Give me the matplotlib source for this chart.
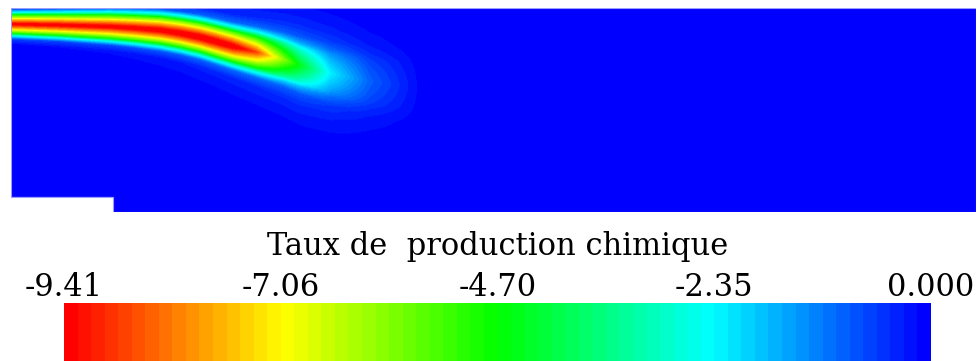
import colorsys
import numpy as np
import matplotlib
matplotlib.use('Agg')
from matplotlib import pyplot as plt
from matplotlib.colors import ListedColormap

# domain (arbitrary length units), step at the lower-left corner
Lx, Ly = 965.0, 204.0
step_x, step_y = 102.0, 15.0

# plume stations: x, centre height, peak, core width,
# faint skirt peak and skirt width
st_x    = [0, 49, 99, 124, 149, 169, 189, 204, 222, 246, 272, 289, 319, 359, 409, 460]
st_y    = [187, 186, 184.5, 183, 181, 178, 174, 170, 165, 159, 152, 146, 138, 130, 124, 120]
st_peak = [-9.41, -9.41, -9.38, -9.35, -9.32, -9.3, -9.25, -9.2, -9.0, -7.8, -5.0, -3.4, -1.4, -0.5, -0.05, 0.0]
st_w    = [10, 11, 12.5, 13.2, 14, 14.5, 15, 15.5, 16, 17, 18, 19, 21, 24, 27, 30]
st_halo = [-0.3, -0.35, -0.4, -0.5, -0.6, -0.7, -0.8, -0.85, -0.9, -1.0, -1.1, -1.1, -0.9, -0.45, -0.05, 0.0]
st_hw   = [22, 24, 27, 28, 30, 31, 33, 34, 36, 38, 40, 42, 44, 46, 48, 50]

# cross-stream shape of the plume (offset / core width -> fraction of peak)
prof_u = [0, 0.2, 0.5, 0.9, 1.15, 1.5, 2.0]
prof_v = [1, 0.9, 0.75, 0.5, 0.25, 0.05, 0]

vmin, vmax = -9.41, 0.0
tick_vals = [-9.41, -7.0575, -4.705, -2.3525, 0.0]
tick_labels = ['-9.41', '-7.06', '-4.70', '-2.35', '0.000']
title = 'Taux de  production chimique'

# 64 band rainbow, red -> blue
n_bands = 64
cols = [colorsys.hsv_to_rgb(2/3 * i / (n_bands - 1), 1, 1) for i in range(n_bands)]
cmap = ListedColormap(cols)
cmap.set_bad('white')

x = np.arange(0, Lx, 1.0) + 0.5
y = np.arange(0, Ly, 1.0) + 0.5
X, Y = np.meshgrid(x, y)
yc = np.interp(x, st_x, st_y)
pk = np.interp(x, st_x, st_peak)
w = np.interp(x, st_x, st_w)
hp = np.interp(x, st_x, st_halo)
hw = np.interp(x, st_x, st_hw)
d = Y - yc[None, :]
core = np.interp(np.abs(d) / w[None, :], prof_u, prof_v)
field = pk[None, :] * core + hp[None, :] * np.exp(-(d / hw[None, :])**2)
field = np.clip(field, vmin, vmax)
field[(X < step_x) & (Y < step_y)] = np.nan

plt.rcParams['font.family'] = ['DejaVu Serif']
fig = plt.figure(figsize=(9.77, 3.61), dpi=100)

ax = fig.add_axes([11/977, 1 - 212/361, 965/977, 204/361])
im = ax.imshow(field, origin='lower', extent=[0, Lx, 0, Ly], cmap=cmap,
               vmin=vmin, vmax=vmax, interpolation='bilinear', aspect='auto')
ax.plot([0, Lx, Lx, step_x, step_x, 0, 0], [Ly, Ly, 0, 0, step_y, step_y, Ly],
        color='#9c9cff', lw=0.8)
ax.set_xlim(0, Lx)
ax.set_ylim(0, Ly)
ax.axis('off')

cax = fig.add_axes([64/977, 0, 867/977, 58/361])
cbar = fig.colorbar(im, cax=cax, orientation='horizontal', ticks=tick_vals)
cbar.outline.set_visible(False)
cax.xaxis.set_ticks_position('top')
cax.set_xticklabels(tick_labels)
cax.tick_params(axis='x', length=0, pad=0, labelsize=22)

fig.text(497.5/977, 1 - 255/361, title, ha='center', va='baseline', fontsize=22)

fig.savefig('out.png', dpi=100)
